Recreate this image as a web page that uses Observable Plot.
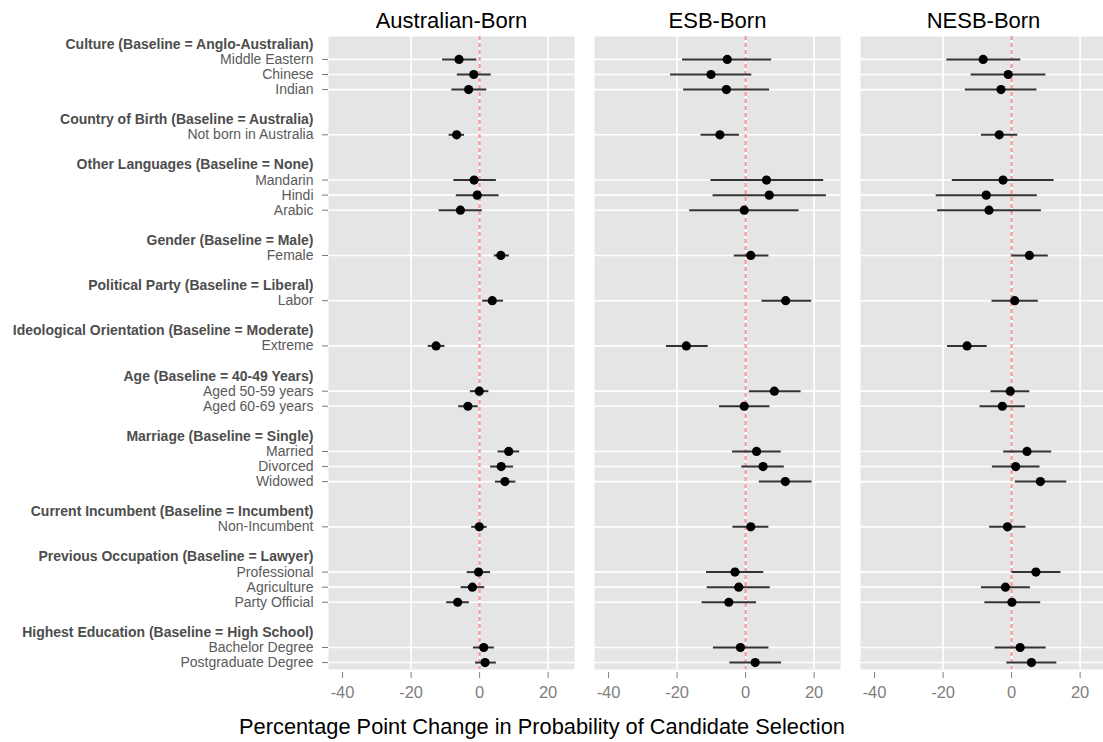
<!DOCTYPE html>
<html>
<head>
<meta charset="utf-8">
<script src="https://cdn.jsdelivr.net/npm/d3@7"></script>
<script src="https://cdn.jsdelivr.net/npm/@observablehq/plot@0.6"></script>
<style>
  html, body { margin: 0; padding: 0; background: white; overflow: hidden; }
  #wrap { position: relative; width: 1103px; height: 742px; overflow: hidden; font-family: "Liberation Sans", Arial, Helvetica, sans-serif; }
  #xlabel { position: absolute; top: 714px; left: 542px; transform: translateX(-50%); white-space: nowrap; font-size: 21.8px; color: #000; }
</style>
</head>
<body>
<div id="wrap"><div id="chart"></div><div id="xlabel">Percentage Point Change in Probability of Candidate Selection</div></div>
<script>
const panels = ["Australian-Born", "ESB-Born", "NESB-Born"];

const groupHeaders = [
  "Culture (Baseline = Anglo-Australian)",
  "Country of Birth (Baseline = Australia)",
  "Other Languages (Baseline = None)",
  "Gender (Baseline = Male)",
  "Political Party (Baseline = Liberal)",
  "Ideological Orientation (Baseline = Moderate)",
  "Age (Baseline = 40-49 Years)",
  "Marriage (Baseline = Single)",
  "Current Incumbent (Baseline = Incumbent)",
  "Previous Occupation (Baseline = Lawyer)",
  "Highest Education (Baseline = High School)"
];

const groupItems = [
  ["Middle Eastern", "Chinese", "Indian"],
  ["Not born in Australia"],
  ["Mandarin", "Hindi", "Arabic"],
  ["Female"],
  ["Labor"],
  ["Extreme"],
  ["Aged 50-59 years", "Aged 60-69 years"],
  ["Married", "Divorced", "Widowed"],
  ["Non-Incumbent"],
  ["Professional", "Agriculture", "Party Official"],
  ["Bachelor Degree", "Postgraduate Degree"]
];

// estimates and 95% interval bounds, in item order
const ausEst = [-6.0, -1.7, -3.2, -6.7, -1.6, -0.7, -5.6, 6.2, 3.7, -12.7, -0.1, -3.4, 8.5, 6.3, 7.4, -0.1, -0.3, -2.1, -6.4, 1.2, 1.6];
const ausLo  = [-10.8, -6.5, -8.1, -8.9, -7.5, -6.8, -11.8, 4.3, 0.9, -15.0, -2.7, -6.1, 5.4, 3.2, 4.6, -2.3, -3.6, -5.4, -9.6, -1.8, -1.2];
const ausHi  = [-0.8, 3.4, 2.1, -4.4, 4.9, 5.7, 0.8, 8.7, 7.0, -10.1, 2.7, -0.4, 11.7, 9.9, 10.6, 2.2, 3.2, 1.5, -3.0, 4.3, 4.9];

const esbEst = [-5.35, -10.1, -5.6, -7.5, 6.1, 6.9, -0.4, 1.5, 11.7, -17.3, 8.4, -0.4, 3.2, 5.1, 11.6, 1.5, -3.1, -2.0, -4.9, -1.5, 2.8];
const esbLo  = [-18.4, -21.9, -18.1, -13.0, -10.1, -9.5, -16.3, -3.3, 4.8, -23.1, 1.1, -7.6, -3.8, -1.1, 4.0, -3.7, -11.4, -11.2, -12.7, -9.4, -4.6];
const esbHi  = [7.6, 1.8, 7.0, -1.8, 22.8, 23.6, 15.6, 6.8, 19.3, -10.9, 16.2, 7.1, 10.4, 11.3, 19.4, 6.8, 5.3, 7.2, 3.2, 6.8, 10.5];

const nesbEst = [-8.3, -1.0, -3.1, -3.6, -2.5, -7.4, -6.6, 5.2, 0.9, -13.0, -0.4, -2.7, 4.5, 1.2, 8.4, -1.2, 7.1, -1.8, 0.1, 2.5, 5.8];
const nesbLo  = [-18.9, -11.8, -13.5, -8.8, -17.3, -22.0, -21.6, 0.1, -5.7, -18.7, -6.0, -9.2, -2.3, -5.6, 1.1, -6.4, 0.1, -8.8, -7.8, -4.8, -1.4];
const nesbHi  = [2.7, 10.0, 7.4, 1.8, 12.4, 7.5, 8.7, 10.7, 7.8, -7.1, 5.3, 4.0, 11.7, 8.3, 16.1, 4.2, 14.4, 5.5, 8.5, 10.1, 13.2];

const xTicks = [-40, -20, 0, 20];
const xGrid = [-20, 0, 20];

// layout slots: header, items, blank
const headerRows = [];
const itemRows = [];
let slot = 0;
groupHeaders.forEach((h, g) => {
  headerRows.push({label: h, slot: slot++, panel: panels[0]});
  groupItems[g].forEach(it => itemRows.push({label: it, slot: slot++}));
  slot++;
});
const lastSlot = slot - 2;

const series = [[ausEst, ausLo, ausHi], [esbEst, esbLo, esbHi], [nesbEst, nesbLo, nesbHi]];
const rows = [];
panels.forEach((p, k) => {
  itemRows.forEach((r, i) => {
    rows.push({panel: p, slot: r.slot, est: series[k][0][i], lo: series[k][1][i], hi: series[k][2][i]});
  });
});

const slotLabel = new Map(itemRows.map(r => [r.slot, r.label]));
const font = '"Liberation Sans", Arial, Helvetica, sans-serif';

const chart = Plot.plot({
  width: 1106,
  height: 705,
  marginLeft: 327,
  marginRight: 0,
  marginTop: 36,
  marginBottom: 36,
  style: {fontFamily: font, background: "white", maxWidth: "none", overflow: "visible"},
  fx: {domain: panels, paddingInner: 0.076, paddingOuter: 0, axis: null},
  x: {domain: [-44.1, 27.7]},
  y: {domain: [-0.52, lastSlot + 0.46], reverse: true},
  marks: [
    Plot.frame({fill: "#e5e5e5", stroke: "none"}),
    Plot.gridY(itemRows.map(r => r.slot), {stroke: "white", strokeOpacity: 1, strokeWidth: 1.6}),
    Plot.gridX(xGrid, {stroke: "white", strokeOpacity: 1, strokeWidth: 1.6}),
    Plot.ruleX([0], {stroke: "#f49a9a", strokeWidth: 2.2, strokeDasharray: "4,3"}),
    Plot.ruleY(rows, {fx: "panel", y: "slot", x1: "lo", x2: "hi", stroke: "#333", strokeWidth: 2}),
    Plot.dot(rows, {fx: "panel", x: "est", y: "slot", r: 4.6, fill: "black", stroke: "none"}),
    Plot.axisY({
      ticks: itemRows.map(r => r.slot),
      tickFormat: d => slotLabel.get(d),
      tickSize: 6, tickPadding: 9, fontSize: 14, color: "#5a5a5a", stroke: "#777", label: null
    }),
    Plot.text(headerRows, {
      fx: "panel", y: "slot", text: "label", frameAnchor: "left", dx: -15,
      textAnchor: "end", fontWeight: "bold", fontSize: 14, fill: "#4d4d4d"
    }),
    Plot.axisX({
      ticks: xTicks, tickSize: 6, tickPadding: 8, dy: 3, fontSize: 16.5,
      color: "#7f7f7f", stroke: "#7f7f7f", label: null, tickFormat: d => String(d)
    }),
    Plot.text(panels, {fx: d => d, text: d => d, frameAnchor: "top", lineAnchor: "middle", dy: -16, fontSize: 22, fill: "black"})
  ]
});
document.getElementById("chart").appendChild(chart);
</script>
</body>
</html>
